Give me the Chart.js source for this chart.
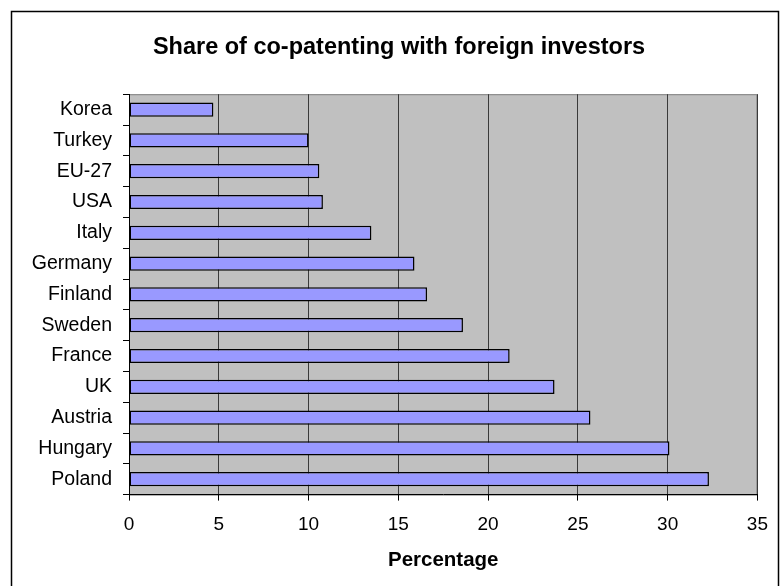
<!DOCTYPE html>
<html>
<head>
<meta charset="utf-8">
<script src="https://cdn.jsdelivr.net/npm/chart.js@4"></script>
<style>
  html, body { margin: 0; padding: 0; background: #fff; }
  #wrap { width: 781px; height: 586px; position: relative; }
</style>
</head>
<body>
<div id="wrap"><canvas id="chart" width="781" height="586"></canvas></div>
<script>
// -----------------------
// Data
// -----------------------
const countries = ['Korea', 'Turkey', 'EU-27', 'USA', 'Italy', 'Germany', 'Finland',
  'Sweden', 'France', 'UK', 'Austria', 'Hungary', 'Poland'];
const shares = [4.7, 10.0, 10.6, 10.8, 13.5, 15.9, 16.6, 18.6, 21.2, 23.7, 25.7, 30.1, 32.3];
const xTicks = [0, 5, 10, 15, 20, 25, 30, 35];

const FONT = '"Liberation Sans", Arial, sans-serif';

// -----------------------
// Plot background + outer frame
// -----------------------
const framePlugin = {
  id: 'frame',
  afterLayout(chart) {
    // let the long country names run past the axis box instead of being clipped
    chart.scales.y.left = 0;
  },
  beforeDraw(chart) {
    const { ctx, chartArea: a } = chart;
    ctx.save();
    ctx.fillStyle = '#fff';
    ctx.fillRect(0, 0, chart.width, chart.height);
    ctx.fillStyle = '#c0c0c0';
    ctx.fillRect(a.left, a.top, a.right - a.left, a.bottom - a.top);
    ctx.strokeStyle = '#808080';
    ctx.lineWidth = 1;
    ctx.strokeRect(a.left + 0.5, a.top + 0.5, a.right - a.left - 1, a.bottom - a.top);
    ctx.restore();
  },
  afterDraw(chart) {
    // open frame: top, left and right edges, bottom runs off the canvas
    const { ctx } = chart;
    ctx.save();
    ctx.strokeStyle = '#000';
    ctx.lineWidth = 1.5;
    ctx.beginPath();
    ctx.moveTo(11.5, chart.height + 2);
    ctx.lineTo(11.5, 11.5);
    ctx.lineTo(778.5, 11.5);
    ctx.lineTo(778.5, chart.height + 2);
    ctx.stroke();
    ctx.restore();
  }
};

// -----------------------
// Chart
// -----------------------
new Chart(document.getElementById('chart'), {
  type: 'bar',
  data: {
    labels: countries,
    datasets: [{
      data: shares,
      backgroundColor: '#9999ff',
      borderColor: '#000',
      borderWidth: 1.5,
      borderSkipped: false,
      categoryPercentage: 1,
      barPercentage: 0.46
    }]
  },
  options: {
    indexAxis: 'y',
    responsive: false,
    animation: false,
    layout: { padding: { top: 18, left: 39, right: 22, bottom: 13 } },
    plugins: {
      legend: { display: false },
      tooltip: { enabled: false },
      title: {
        display: true,
        text: 'Share of co-patenting with foreign investors',
        color: '#000',
        font: { family: FONT, size: 23.5, weight: 'bold' },
        padding: { top: 15, bottom: 33 }
      }
    },
    scales: {
      x: {
        min: 0,
        max: 35,
        afterBuildTicks: axis => { axis.ticks = xTicks.map(v => ({ value: v })); },
        grid: {
          color: '#3a3a3a',
          lineWidth: 1,
          drawTicks: true,
          tickLength: 6,
          tickColor: '#000'
        },
        border: { display: true, color: '#000', width: 1 },
        ticks: {
          color: '#000',
          font: { family: FONT, size: 19 },
          padding: 13
        },
        title: {
          display: true,
          text: 'Percentage',
          color: '#000',
          font: { family: FONT, size: 20.5, weight: 'bold' },
          padding: { top: -1, bottom: 0 }
        }
      },
      y: {
        offset: true,
        afterFit: axis => { axis.width = 90; },
        grid: {
          offset: true,
          drawOnChartArea: false,
          drawTicks: true,
          tickLength: 6,
          tickColor: '#000'
        },
        border: { display: true, color: '#000', width: 1 },
        ticks: {
          color: '#000',
          font: { family: FONT, size: 19.5 },
          padding: 11
        }
      }
    }
  },
  plugins: [framePlugin]
});
</script>
</body>
</html>
